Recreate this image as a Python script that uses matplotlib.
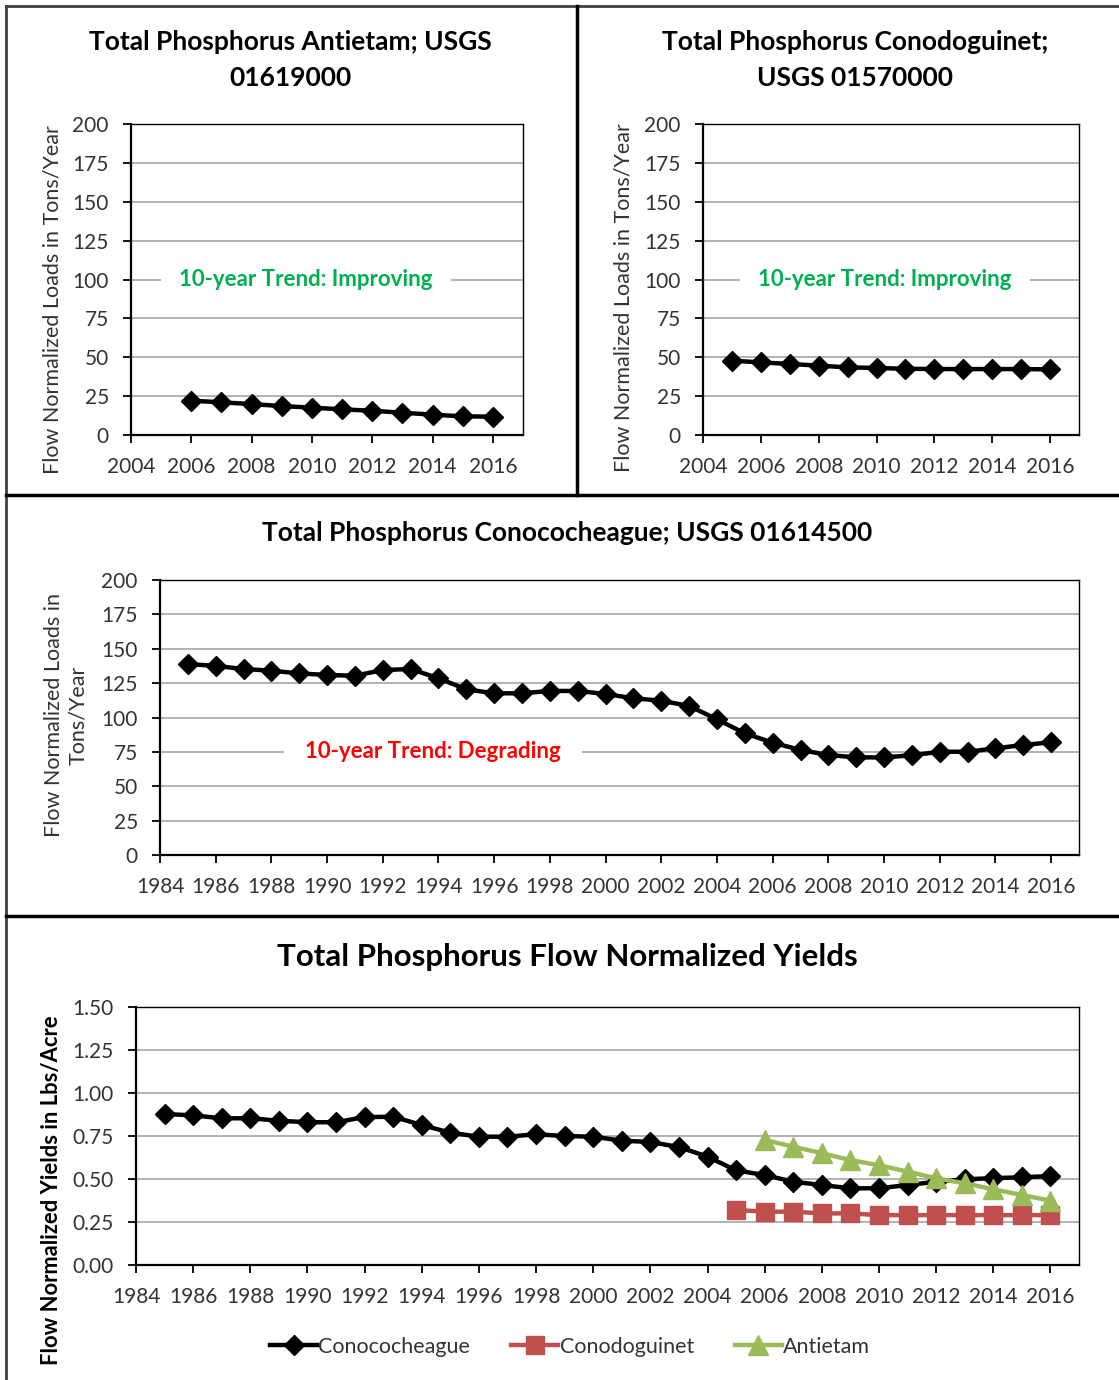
import matplotlib.pyplot as plt
import matplotlib.lines as mlines
import numpy as np

plt.rcParams['font.family'] = ['Lato', 'DejaVu Sans']

# data
yrs_ant = list(range(2006, 2017))
load_ant = [22.1, 21.0, 19.9, 18.6, 17.6, 16.5, 15.6, 14.3, 13.1, 12.0, 11.8]

yrs_cdg = list(range(2005, 2017))
load_cdg = [47.8, 46.7, 45.7, 44.6, 43.5, 43.1, 42.6, 42.4, 42.4, 42.4, 42.4, 42.2]

yrs_cch = list(range(1985, 2017))
load_cch = [138.9, 137.5, 135.3, 134.0, 132.1, 130.9, 130.4, 134.5, 135.3, 128.5,
            120.5, 117.6, 117.6, 119.3, 119.3, 117.1, 114.0, 112.2, 108.4, 98.7,
            88.5, 81.7, 76.4, 72.7, 71.0, 71.0, 72.5, 75.1, 75.1, 77.6, 80.0, 82.0]

yield_cch = [0.878, 0.870, 0.853, 0.853, 0.839, 0.830, 0.830, 0.860, 0.862, 0.814,
             0.769, 0.746, 0.746, 0.760, 0.750, 0.746, 0.723, 0.715, 0.686, 0.630,
             0.550, 0.523, 0.484, 0.465, 0.446, 0.446, 0.465, 0.484, 0.498, 0.505,
             0.510, 0.517]
yield_cdg = [0.32, 0.31, 0.31, 0.30, 0.30, 0.29, 0.29, 0.29, 0.29, 0.29, 0.29, 0.29]
yield_ant = [0.727, 0.688, 0.650, 0.610, 0.580, 0.543, 0.504, 0.475, 0.440, 0.407, 0.374]

W, H = 1119, 1380
fig = plt.figure(figsize=(W / 100, H / 100), dpi=100)
TXT = '#333333'


def box(l, t, r, b):
    return [l / W, 1 - b / H, (r - l) / W, (b - t) / H]


def px(x, y):
    return x / W, 1 - y / H


def style(ax, ymax, ystep, xlo, xhi, xstep, fmt='{:.0f}'):
    ax.set_ylim(0, ymax)
    ax.set_xlim(xlo, xhi)
    yt = np.arange(0, ymax + ystep / 2, ystep)
    ax.set_yticks(yt)
    ax.set_yticklabels([fmt.format(v) for v in yt])
    ax.set_xticks(np.arange(xlo, xhi, xstep))
    ax.grid(axis='y', color='#a6a6a6', lw=1.2)
    ax.set_axisbelow(True)
    for s in ax.spines.values():
        s.set_color('black')
        s.set_linewidth(1.0)
    ax.spines['left'].set_linewidth(1.6)
    ax.spines['bottom'].set_linewidth(1.6)
    ax.tick_params(direction='out', length=6, width=1.3, labelsize=15,
                   labelcolor=TXT, pad=10)


def trend(ax, x, y, s, c, pad):
    ax.text(x, y, s, color=c, fontsize=16, fontweight='bold', ha='center',
            va='center', bbox=dict(facecolor='white', edgecolor='none', pad=pad))


# top left
ax1 = fig.add_axes(box(131, 124, 523, 435))
ax1.plot(yrs_ant, load_ant, color='black', lw=3.2, marker='D', ms=10)
style(ax1, 200, 25, 2004, 2017, 2)
fig.text(*px(290, 60), 'Total Phosphorus Antietam; USGS\n01619000', fontsize=19,
         fontweight='bold', ha='center', va='center', linespacing=1.6)
fig.text(*px(53, 300), 'Flow Normalized Loads in Tons/Year', rotation=90,
         fontsize=15.5, color=TXT, ha='center', va='center')
trend(ax1, 2009.8, 100, '10-year Trend: Improving', '#00b050', 13)

# top right
ax2 = fig.add_axes(box(703, 124, 1079, 435))
ax2.plot(yrs_cdg, load_cdg, color='black', lw=3.2, marker='D', ms=10)
style(ax2, 200, 25, 2004, 2017, 2)
fig.text(*px(855, 60), 'Total Phosphorus Conodoguinet;\nUSGS 01570000', fontsize=19,
         fontweight='bold', ha='center', va='center', linespacing=1.6)
fig.text(*px(624, 298), 'Flow Normalized Loads in Tons/Year', rotation=90,
         fontsize=15.5, color=TXT, ha='center', va='center')
trend(ax2, 2010.3, 100, '10-year Trend: Improving', '#00b050', 13)

# middle
ax3 = fig.add_axes(box(160, 580, 1079, 855))
ax3.plot(yrs_cch, load_cch, color='black', lw=3.2, marker='D', ms=10)
style(ax3, 200, 25, 1984, 2017, 2)
fig.text(*px(567, 533), 'Total Phosphorus Conococheague; USGS 01614500', fontsize=19,
         fontweight='bold', ha='center', va='center')
fig.text(*px(66, 715), 'Flow Normalized Loads in\nTons/Year', rotation=90,
         fontsize=15.5, color=TXT, ha='center', va='center', linespacing=1.3)
trend(ax3, 1993.8, 75, '10-year Trend: Degrading', '#ff0000', 15)

# bottom
ax4 = fig.add_axes(box(136, 1007, 1079, 1265))
ax4.plot(yrs_cch, yield_cch, color='black', lw=3.2, marker='D', ms=10, zorder=4)
ax4.plot(yrs_cdg, yield_cdg, color='#c0504d', lw=3.2, marker='s', ms=13, zorder=3)
ax4.plot(yrs_ant, yield_ant, color='#9bbb59', lw=3.2, marker='^', ms=14, zorder=5)
style(ax4, 1.5, 0.25, 1984, 2017, 2, fmt='{:.2f}')
fig.text(*px(567, 957), 'Total Phosphorus Flow Normalized Yields', fontsize=22.5,
         fontweight='bold', ha='center', va='center')
fig.text(*px(52, 1190), 'Flow Normalized Yields in Lbs/Acre', rotation=90,
         fontsize=15.8, fontweight='bold', ha='center', va='center')

handles = [
    mlines.Line2D([], [], color='black', lw=3.2, marker='D', ms=10),
    mlines.Line2D([], [], color='#c0504d', lw=3.2, marker='s', ms=13),
    mlines.Line2D([], [], color='#9bbb59', lw=3.2, marker='^', ms=14),
]
fig.legend(handles, ['Conococheague', 'Conodoguinet', 'Antietam'], loc='center',
           bbox_to_anchor=px(570, 1347), ncol=3, frameon=False,
           fontsize=15.5, handlelength=2.2, handletextpad=0.05, columnspacing=1.9,
           labelcolor=TXT)

# panel frame lines
def fline(x0, y0, x1, y1, lw, color='black'):
    fig.add_artist(mlines.Line2D([x0 / W, x1 / W], [1 - y0 / H, 1 - y1 / H],
                                 color=color, lw=lw))

fline(6, 6, W, 6, 2, '#404040')
fline(6, 6, 6, H, 2, '#404040')
fline(577, 6, 577, 495, 2.5)
fline(6, 495, W, 495, 2.5)
fline(6, 916, W, 916, 2.5)

fig.savefig('out.png', dpi=100)
